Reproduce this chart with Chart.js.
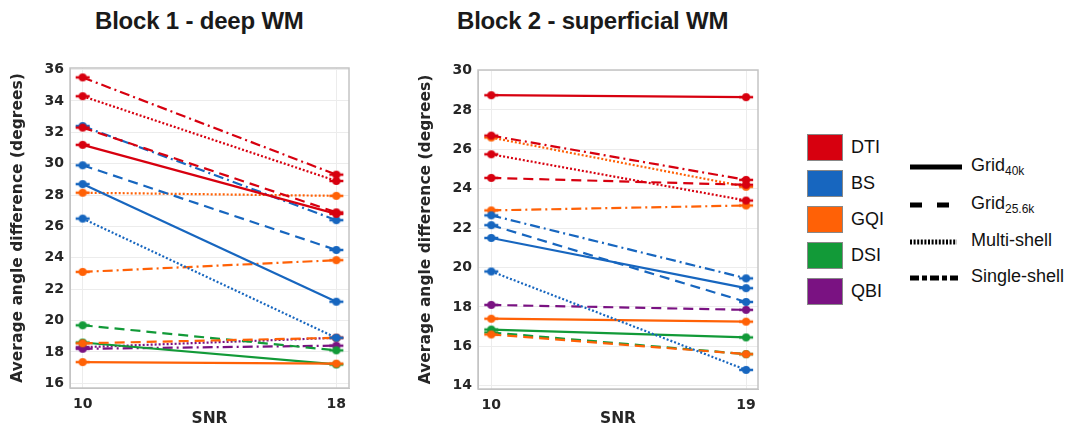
<!DOCTYPE html>
<html>
<head>
<meta charset="utf-8">
<script src="https://cdn.jsdelivr.net/npm/chart.js@4.4.1/dist/chart.umd.min.js"></script>
<style>
  body { margin: 0; background: #fff; width: 1073px; height: 428px; overflow: hidden; position: relative; font-family: "Liberation Sans", Arial, sans-serif; }
  .title { position: absolute; top: 7px; font: bold 24px "Liberation Sans", Arial, sans-serif; color: #1a1a1a; white-space: nowrap; letter-spacing: -0.2px; }
  .chart-box { position: absolute; top: 0; height: 428px; }
  .swatch { position: absolute; left: 807px; width: 34px; height: 25px; border: 1px solid #888; }
  .lbl { position: absolute; font-size: 18px; color: #111; white-space: nowrap; }
  .lbl sub { font-size: 12px; vertical-align: -4px; }
  svg.ls { position: absolute; left: 909px; width: 54px; height: 10px; }
</style>
</head>
<body>
<div class="title" style="left:95px">Block 1 - deep WM</div>
<div class="title" style="left:457px">Block 2 - superficial WM</div>

<div class="chart-box" style="left:0;width:380px"><canvas id="deepChart"></canvas></div>
<div class="chart-box" style="left:408px;width:372px"><canvas id="supChart"></canvas></div>

<div id="legend"></div>

<script>
// Data: value at low SNR, value at high SNR
const snrDeep = [10, 18];
const snrSup = [10, 19];
const yTicksDeep = [16, 18, 20, 22, 24, 26, 28, 30, 32, 34, 36];
const yTicksSup = [14, 16, 18, 20, 22, 24, 26, 28, 30];

const methods = ['DTI', 'BS', 'GQI', 'DSI', 'QBI'];

// Block 1 - deep WM
const deepDtiGrid40k = [31.2, 26.8];
const deepDtiGrid256k = [32.3, 26.9];
const deepDtiMulti = [34.3, 28.9];
const deepDtiSingle = [35.5, 29.3];
const deepBsGrid40k = [28.7, 21.2];
const deepBsGrid256k = [29.9, 24.5];
const deepBsMulti = [26.5, 18.9];
const deepBsSingle = [32.4, 26.4];
const deepGqiGrid40k = [17.35, 17.25];
const deepGqiGrid256k = [18.55, 18.9];
const deepGqiMulti = [28.15, 27.95];
const deepGqiSingle = [23.1, 23.85];
const deepDsiGrid40k = [18.6, 17.2];
const deepDsiGrid256k = [19.7, 18.1];
const deepQbiMulti = [18.3, 18.9];
const deepQbiSingle = [18.2, 18.4];

// Block 2 - superficial WM
const supDtiGrid40k = [28.75, 28.65];
const supDtiGrid256k = [24.55, 24.2];
const supDtiMulti = [25.75, 23.4];
const supDtiSingle = [26.7, 24.45];
const supBsGrid40k = [21.5, 18.95];
const supBsGrid256k = [22.15, 18.25];
const supBsMulti = [19.8, 14.8];
const supBsSingle = [22.65, 19.45];
const supGqiGrid40k = [17.4, 17.25];
const supGqiGrid256k = [16.6, 15.6];
const supGqiMulti = [26.6, 24.1];
const supGqiSingle = [22.9, 23.15];
const supDsiGrid40k = [16.85, 16.45];
const supDsiGrid256k = [16.7, 15.6];
const supQbiGrid256k = [18.1, 17.85];

const colors = {
    DTI: '#d7000f',
    BS: '#1766bf',
    GQI: '#ff6106',
    DSI: '#129a38',
    QBI: '#7a1282'
};
const dashes = {
    'Grid40k': [],
    'Grid25.6k': [10, 6],
    'Multi-shell': [2, 2],
    'Single-shell': [10, 4, 2, 4]
};

const deepSeries = [
    ['DTI', 'Grid40k', deepDtiGrid40k], ['DTI', 'Grid25.6k', deepDtiGrid256k],
    ['DTI', 'Multi-shell', deepDtiMulti], ['DTI', 'Single-shell', deepDtiSingle],
    ['BS', 'Grid40k', deepBsGrid40k], ['BS', 'Grid25.6k', deepBsGrid256k],
    ['BS', 'Multi-shell', deepBsMulti], ['BS', 'Single-shell', deepBsSingle],
    ['GQI', 'Grid40k', deepGqiGrid40k], ['GQI', 'Grid25.6k', deepGqiGrid256k],
    ['GQI', 'Multi-shell', deepGqiMulti], ['GQI', 'Single-shell', deepGqiSingle],
    ['DSI', 'Grid40k', deepDsiGrid40k], ['DSI', 'Grid25.6k', deepDsiGrid256k],
    ['QBI', 'Multi-shell', deepQbiMulti], ['QBI', 'Single-shell', deepQbiSingle]
];
const supSeries = [
    ['DTI', 'Grid40k', supDtiGrid40k], ['DTI', 'Grid25.6k', supDtiGrid256k],
    ['DTI', 'Multi-shell', supDtiMulti], ['DTI', 'Single-shell', supDtiSingle],
    ['BS', 'Grid40k', supBsGrid40k], ['BS', 'Grid25.6k', supBsGrid256k],
    ['BS', 'Multi-shell', supBsMulti], ['BS', 'Single-shell', supBsSingle],
    ['GQI', 'Grid40k', supGqiGrid40k], ['GQI', 'Grid25.6k', supGqiGrid256k],
    ['GQI', 'Multi-shell', supGqiMulti], ['GQI', 'Single-shell', supGqiSingle],
    ['DSI', 'Grid40k', supDsiGrid40k], ['DSI', 'Grid25.6k', supDsiGrid256k],
    ['QBI', 'Grid25.6k', supQbiGrid256k]
];

// marker: dot with short horizontal caps, like the matlab errorbar markers
const markerCache = {};
function marker(color) {
    if (markerCache[color]) return markerCache[color];
    const c = document.createElement('canvas');
    c.width = 16; c.height = 10;
    const g = c.getContext('2d');
    g.fillStyle = color;
    g.strokeStyle = color;
    g.lineWidth = 2.5;
    g.beginPath(); g.moveTo(1, 5); g.lineTo(15, 5); g.stroke();
    g.beginPath(); g.arc(8, 5, 4, 0, Math.PI * 2); g.fill();
    markerCache[color] = c;
    return c;
}

// draws the grey box round the plot area
const frame = {
    id: 'frame',
    afterDraw(chart) {
        const a = chart.chartArea, ctx = chart.ctx;
        ctx.save();
        ctx.strokeStyle = '#c4c4c4';
        ctx.lineWidth = 1.5;
        ctx.strokeRect(a.left, a.top, a.right - a.left, a.bottom - a.top);
        ctx.restore();
    }
};

const tickFont = { family: 'DejaVu Sans', weight: 'bold', size: 14 };
const axisTitleFont = { family: 'DejaVu Sans', weight: 'bold', size: 15.5 };

function makeChart(id, snr, series, yTicks, xr, yr, pad, yWidth, xHeight) {
    const datasets = series.map(([m, s, vals]) => ({
        label: m + ' ' + s,
        data: vals.map((v, i) => ({ x: snr[i], y: v })),
        borderColor: colors[m],
        backgroundColor: colors[m],
        borderDash: dashes[s],
        borderWidth: 2.2,
        pointStyle: marker(colors[m]),
        pointRadius: 5
    }));
    return new Chart(document.getElementById(id), {
        type: 'line',
        data: { datasets },
        options: {
            responsive: true,
            maintainAspectRatio: false,
            animation: false,
            layout: { padding: pad },
            plugins: { legend: { display: false }, tooltip: { enabled: false } },
            scales: {
                x: {
                    type: 'linear',
                    min: xr[0], max: xr[1],
                    afterBuildTicks: s => { s.ticks = snr.map(v => ({ value: v })); },
                    afterFit: s => { s.height = xHeight; },
                    grid: { color: '#ececec', drawTicks: false },
                    border: { color: '#c4c4c4' },
                    ticks: { color: '#262626', font: tickFont, padding: 8, maxRotation: 0 },
                    title: { display: true, text: 'SNR', color: '#262626', font: axisTitleFont, padding: 0 }
                },
                y: {
                    min: yr[0], max: yr[1],
                    afterBuildTicks: s => { s.ticks = yTicks.map(v => ({ value: v })); },
                    afterFit: s => { s.width = yWidth; },
                    grid: { color: '#ececec', drawTicks: false },
                    border: { color: '#c4c4c4' },
                    ticks: { color: '#262626', font: tickFont, padding: 6 },
                    title: { display: true, text: 'Average angle difference (degrees)', color: '#262626', font: axisTitleFont, padding: { top: 9, bottom: 0 } }
                }
            }
        },
        plugins: [frame]
    });
}

makeChart('deepChart', snrDeep, deepSeries, yTicksDeep, [9.6, 18.4], [15.7, 36.1],
    { top: 68, right: 31, bottom: 0, left: 0 }, 70, 40);
makeChart('supChart', snrSup, supSeries, yTicksSup, [9.53, 19.42], [13.83, 30.03],
    { top: 70, right: 22, bottom: 0, left: 0 }, 70, 39);

// legend on the right: colour swatches and line styles
const legend = document.getElementById('legend');
const swatchTops = [134, 170, 206, 242, 278];
methods.forEach((m, i) => {
    legend.insertAdjacentHTML('beforeend',
        `<div class="swatch" style="top:${swatchTops[i]}px;background:${colors[m]}"></div>` +
        `<div class="lbl" style="left:851px;top:${swatchTops[i] + 3}px">${m}</div>`);
});
const styleRows = [
    ['Grid<sub>40k</sub>', '', 52, 167],
    ['Grid<sub>25.6k</sub>', '12 15', 40, 205],
    ['Multi-shell', '2 1.6', 47, 242],
    ['Single-shell', '9 3 5 3', 48, 278]
];
styleRows.forEach(([txt, dash, len, y]) => {
    legend.insertAdjacentHTML('beforeend',
        `<svg class="ls" style="top:${y - 5}px"><line x1="1" y1="5" x2="${1 + len}" y2="5" stroke="#000" stroke-width="5" stroke-dasharray="${dash}"/></svg>` +
        `<div class="lbl" style="left:971px;top:${y - 12}px">${txt}</div>`);
});
</script>
</body>
</html>
